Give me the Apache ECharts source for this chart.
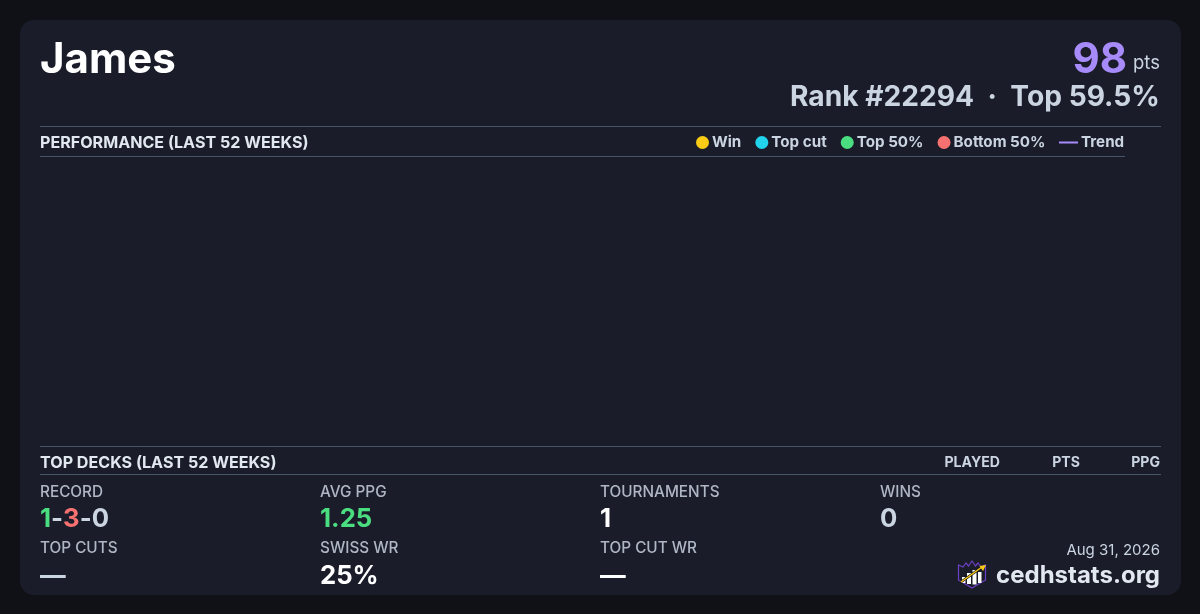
<!DOCTYPE html>
<html><head><meta charset="utf-8">
<style>html,body{margin:0;padding:0;background:#0f1116}#c{width:1200px;height:614px}</style>
<script src="https://cdn.jsdelivr.net/npm/echarts@6/dist/echarts.min.js"></script>
</head><body><div id="c"></div>
<script>
const playerName = 'James';
const points = '98';
const rankLine = 'Rank #22294  ·  Top 59.5%';
const dateText = 'Aug 31, 2026';
const siteText = 'cedhstats.org';
const perfTitle = 'PERFORMANCE (LAST 52 WEEKS)';
const deckTitle = 'TOP DECKS (LAST 52 WEEKS)';
const deckColumns = ['PLAYED', 'PTS', 'PPG'];
const legendPoints = ['Win', 'Top cut', 'Top 50%', 'Bottom 50%'];
const legendColors = ['#facc15', '#22d3ee', '#4ade80', '#f87171'];
const weeks = [];
const winValues = [];
const topCutValues = [];
const top50Values = [];
const bottom50Values = [];
const trendValues = [];
const statLabels = ['RECORD', 'AVG PPG', 'TOURNAMENTS', 'WINS', 'TOP CUTS', 'SWISS WR', 'TOP CUT WR'];
const statValues = ['', '1.25', '1', '0', '—', '25%', '—'];

const FONT = 'Inter';
const chart = echarts.init(document.getElementById('c'), null, {renderer: 'canvas'});
const txt = (x, y, text, size, weight, fill, align) => ({
  type: 'text', x, y, z: 5,
  style: {text, font: `${weight} ${size}px ${FONT}`, fill, align: align || 'left', verticalAlign: 'middle'}
});
const rule = (x1, x2, y) => ({type: 'rect', z: 4, shape: {x: x1, y, width: x2 - x1, height: 1}, style: {fill: '#475569'}});
const colX = [40, 320, 600, 880];
const statFill = ['', '#4ade80', '#ffffff', '#cbd5e1', '#cbd5e1', '#ffffff', '#ffffff'];
const g = [
  {type: 'rect', z: 1, shape: {x: 20, y: 20, width: 1161, height: 575, r: 14}, style: {fill: '#1a1d29'}},
  txt(40, 60.5, playerName, 42, 700, '#ffffff'),
  txt(1127, 60.5, points, 42, 700, '#a78bfa', 'right'),
  txt(1160, 63.5, 'pts', 18.5, 400, '#cbd5e1', 'right'),
  txt(1160, 97.5, rankLine, 28.2, 700, '#cbd5e1', 'right'),
  rule(40, 1161, 126),
  rule(40, 1125, 156),
  txt(40, 143, perfTitle, 16.1, 700, '#e2e8f0'),
  rule(40, 1161, 446),
  rule(40, 1161, 474),
  txt(40, 463, deckTitle, 16.1, 700, '#e2e8f0'),
  txt(1000, 463, deckColumns[0], 14.1, 700, '#cbd5e1', 'right'),
  txt(1080, 463, deckColumns[1], 14.1, 700, '#cbd5e1', 'right'),
  txt(1160, 463, deckColumns[2], 14.1, 700, '#cbd5e1', 'right'),
  txt(1160, 550.5, dateText, 15, 400, '#cbd5e1', 'right'),
  txt(1160, 575.5, siteText, 24, 700, '#e2e8f0', 'right'),
  {type: 'text', x: 40, y: 519.5, z: 5, style: {
    text: '{g|1}{s|-}{r|3}{s|-}{s|0}', verticalAlign: 'middle',
    rich: {
      g: {font: `700 25.7px ${FONT}`, fill: '#4ade80'},
      r: {font: `700 25.7px ${FONT}`, fill: '#f87171'},
      s: {font: `700 25.7px ${FONT}`, fill: '#cbd5e1'}
    }
  }},
  // logo
  {type: 'polygon', z: 5, shape: {points: [[958.5,565],[963,567],[966,563],[968.5,566],[972,561],[975.5,566],[978,563],[981,567],[985.5,565],[985.5,580],[972,588],[958.5,580]]},
    style: {fill: 'none', stroke: '#6d3fc4', lineWidth: 1.2}},
  {type: 'rect', z: 5, shape: {x: 962, y: 577, width: 3.5, height: 6}, style: {fill: '#fff'}},
  {type: 'rect', z: 5, shape: {x: 967, y: 573, width: 4, height: 11}, style: {fill: '#fff'}},
  {type: 'rect', z: 5, shape: {x: 972.5, y: 570, width: 4, height: 14.5}, style: {fill: '#fff'}},
  {type: 'rect', z: 5, shape: {x: 978, y: 572, width: 3.5, height: 11}, style: {fill: '#fff'}},
  {type: 'line', z: 6, shape: {x1: 961, y1: 582, x2: 982, y2: 567}, style: {stroke: '#111', lineWidth: 2.6}},
  {type: 'line', z: 7, shape: {x1: 961, y1: 582, x2: 982, y2: 567}, style: {stroke: '#facc15', lineWidth: 1.4}},
  {type: 'polygon', z: 7, shape: {points: [[986,565],[979.5,566],[983,571]]}, style: {fill: '#facc15'}}
];
const labelPos = [[0,0],[1,0],[2,0],[3,0],[0,1],[1,1],[2,1]];
statLabels.forEach((s, i) => {
  const [c, r] = labelPos[i];
  g.push(txt(colX[c], r ? 548.5 : 492.5, s, 15.3, 500, '#b0b7c4'));
  if (statValues[i]) g.push(txt(colX[c], r ? 576 : 519.5, statValues[i], 25.7, 700, statFill[i]));
});
const legendText = {color: '#cbd5e1', fontFamily: FONT, fontWeight: 700, fontSize: 15.2, padding: [0, 0, 0, -2]};
const dot = color => ({color, opacity: 1});
chart.setOption({
  animation: false,
  backgroundColor: '#0f1116',
  grid: {left: 40, right: 75, top: 157, bottom: 168, show: false},
  xAxis: {type: 'category', data: weeks, show: false},
  yAxis: {type: 'value', show: false},
  legend: [
    {data: legendPoints.map(name => ({name, icon: 'circle'})), left: 696, top: 135, itemWidth: 13, itemHeight: 13, itemGap: 14, padding: 0, textStyle: legendText},
    {data: [{name: 'Trend', icon: 'rect'}], left: 1059, top: 135, itemWidth: 19, itemHeight: 2, itemGap: 0, padding: 0, textStyle: legendText}
  ],
  series: [
    {name: legendPoints[0], type: 'scatter', data: winValues, itemStyle: dot(legendColors[0])},
    {name: legendPoints[1], type: 'scatter', data: topCutValues, itemStyle: dot(legendColors[1])},
    {name: legendPoints[2], type: 'scatter', data: top50Values, itemStyle: dot(legendColors[2])},
    {name: legendPoints[3], type: 'scatter', data: bottom50Values, itemStyle: dot(legendColors[3])},
    {name: 'Trend', type: 'line', data: trendValues, itemStyle: {color: '#a78bfa'}, lineStyle: {color: '#a78bfa'}}
  ],
  graphic: {elements: g}
});
</script></body></html>
